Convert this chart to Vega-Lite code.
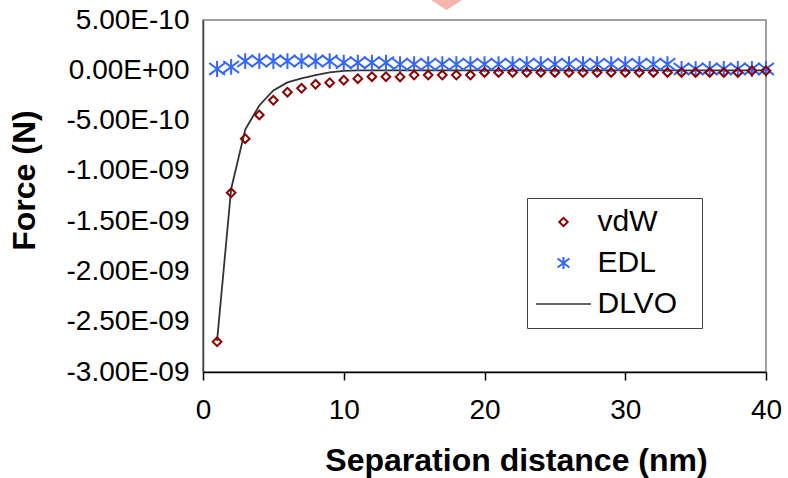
{
  "$schema": "https://vega.github.io/schema/vega-lite/v6.json",
  "width": 563,
  "height": 352,
  "autosize": {"type": "none"},
  "padding": {"left": 203, "top": 20, "right": 22, "bottom": 106},
  "background": "white",
  "config": {
    "font": "Liberation Sans",
    "view": {"stroke": "#808080", "strokeWidth": 1.5},
    "axis": {"grid": false, "labelColor": "#000", "titleColor": "#000", "labelFont": "Liberation Sans", "titleFont": "Liberation Sans"},
    "legend": {
      "orient": "none", "legendX": 324, "legendY": 178,
      "padding": 9, "rowPadding": 11, "strokeColor": "#404040", "fillColor": "white",
      "labelFontSize": 30, "labelFont": "Liberation Sans", "labelColor": "#000",
      "symbolSize": 64, "symbolStrokeWidth": 2, "symbolOffset": 12.5, "labelOffset": 19,
      "titleOrient": "right", "titleColor": "white", "titleFontSize": 6, "titlePadding": 14
    }
  },
  "datasets": {
    "forces": [
      {"x": 1, "series": "vdW", "force": -2.70e-9},
      {"x": 2, "series": "vdW", "force": -1.218e-9},
      {"x": 3, "series": "vdW", "force": -0.68e-9},
      {"x": 4, "series": "vdW", "force": -0.444e-9},
      {"x": 5, "series": "vdW", "force": -0.298e-9},
      {"x": 6, "series": "vdW", "force": -0.218e-9},
      {"x": 7, "series": "vdW", "force": -0.179e-9},
      {"x": 8, "series": "vdW", "force": -0.139e-9},
      {"x": 9, "series": "vdW", "force": -0.123e-9},
      {"x": 10, "series": "vdW", "force": -0.099e-9},
      {"x": 11, "series": "vdW", "force": -0.083e-9},
      {"x": 12, "series": "vdW", "force": -0.064e-9},
      {"x": 13, "series": "vdW", "force": -0.064e-9},
      {"x": 14, "series": "vdW", "force": -0.066e-9},
      {"x": 15, "series": "vdW", "force": -0.047e-9},
      {"x": 16, "series": "vdW", "force": -0.047e-9},
      {"x": 17, "series": "vdW", "force": -0.047e-9},
      {"x": 18, "series": "vdW", "force": -0.047e-9},
      {"x": 19, "series": "vdW", "force": -0.047e-9},
      {"x": 20, "series": "vdW", "force": -0.022e-9},
      {"x": 21, "series": "vdW", "force": -0.022e-9},
      {"x": 22, "series": "vdW", "force": -0.022e-9},
      {"x": 23, "series": "vdW", "force": -0.022e-9},
      {"x": 24, "series": "vdW", "force": -0.022e-9},
      {"x": 25, "series": "vdW", "force": -0.022e-9},
      {"x": 26, "series": "vdW", "force": -0.022e-9},
      {"x": 27, "series": "vdW", "force": -0.022e-9},
      {"x": 28, "series": "vdW", "force": -0.022e-9},
      {"x": 29, "series": "vdW", "force": -0.022e-9},
      {"x": 30, "series": "vdW", "force": -0.022e-9},
      {"x": 31, "series": "vdW", "force": -0.022e-9},
      {"x": 32, "series": "vdW", "force": -0.022e-9},
      {"x": 33, "series": "vdW", "force": -0.022e-9},
      {"x": 34, "series": "vdW", "force": -0.022e-9},
      {"x": 35, "series": "vdW", "force": -0.022e-9},
      {"x": 36, "series": "vdW", "force": -0.022e-9},
      {"x": 37, "series": "vdW", "force": -0.022e-9},
      {"x": 38, "series": "vdW", "force": -0.022e-9},
      {"x": 39, "series": "vdW", "force": -0.005e-9},
      {"x": 40, "series": "vdW", "force": -0.005e-9},
      {"x": 1, "series": "EDL", "force": 0.013e-9},
      {"x": 2, "series": "EDL", "force": 0.033e-9},
      {"x": 3, "series": "EDL", "force": 0.092e-9},
      {"x": 4, "series": "EDL", "force": 0.092e-9},
      {"x": 5, "series": "EDL", "force": 0.092e-9},
      {"x": 6, "series": "EDL", "force": 0.092e-9},
      {"x": 7, "series": "EDL", "force": 0.092e-9},
      {"x": 8, "series": "EDL", "force": 0.092e-9},
      {"x": 9, "series": "EDL", "force": 0.092e-9},
      {"x": 10, "series": "EDL", "force": 0.075e-9},
      {"x": 11, "series": "EDL", "force": 0.075e-9},
      {"x": 12, "series": "EDL", "force": 0.075e-9},
      {"x": 13, "series": "EDL", "force": 0.075e-9},
      {"x": 14, "series": "EDL", "force": 0.06e-9},
      {"x": 15, "series": "EDL", "force": 0.06e-9},
      {"x": 16, "series": "EDL", "force": 0.06e-9},
      {"x": 17, "series": "EDL", "force": 0.06e-9},
      {"x": 18, "series": "EDL", "force": 0.06e-9},
      {"x": 19, "series": "EDL", "force": 0.06e-9},
      {"x": 20, "series": "EDL", "force": 0.06e-9},
      {"x": 21, "series": "EDL", "force": 0.06e-9},
      {"x": 22, "series": "EDL", "force": 0.06e-9},
      {"x": 23, "series": "EDL", "force": 0.06e-9},
      {"x": 24, "series": "EDL", "force": 0.06e-9},
      {"x": 25, "series": "EDL", "force": 0.06e-9},
      {"x": 26, "series": "EDL", "force": 0.06e-9},
      {"x": 27, "series": "EDL", "force": 0.06e-9},
      {"x": 28, "series": "EDL", "force": 0.06e-9},
      {"x": 29, "series": "EDL", "force": 0.06e-9},
      {"x": 30, "series": "EDL", "force": 0.06e-9},
      {"x": 31, "series": "EDL", "force": 0.06e-9},
      {"x": 32, "series": "EDL", "force": 0.06e-9},
      {"x": 33, "series": "EDL", "force": 0.06e-9},
      {"x": 34, "series": "EDL", "force": 0.013e-9},
      {"x": 35, "series": "EDL", "force": 0.013e-9},
      {"x": 36, "series": "EDL", "force": 0.013e-9},
      {"x": 37, "series": "EDL", "force": 0.013e-9},
      {"x": 38, "series": "EDL", "force": 0.013e-9},
      {"x": 39, "series": "EDL", "force": 0.013e-9},
      {"x": 40, "series": "EDL", "force": 0.013e-9},
      {"x": 1, "series": "DLVO", "force": -2.69e-9},
      {"x": 2, "series": "DLVO", "force": -1.18e-9},
      {"x": 3, "series": "DLVO", "force": -0.59e-9},
      {"x": 4, "series": "DLVO", "force": -0.35e-9},
      {"x": 5, "series": "DLVO", "force": -0.20e-9},
      {"x": 6, "series": "DLVO", "force": -0.12e-9},
      {"x": 7, "series": "DLVO", "force": -0.08e-9},
      {"x": 8, "series": "DLVO", "force": -0.047e-9},
      {"x": 9, "series": "DLVO", "force": -0.02e-9},
      {"x": 10, "series": "DLVO", "force": -0.005e-9},
      {"x": 11, "series": "DLVO", "force": 0},
      {"x": 12, "series": "DLVO", "force": 0},
      {"x": 13, "series": "DLVO", "force": 0},
      {"x": 14, "series": "DLVO", "force": 0},
      {"x": 15, "series": "DLVO", "force": 0},
      {"x": 16, "series": "DLVO", "force": 0},
      {"x": 17, "series": "DLVO", "force": 0},
      {"x": 18, "series": "DLVO", "force": 0},
      {"x": 19, "series": "DLVO", "force": 0},
      {"x": 20, "series": "DLVO", "force": 0},
      {"x": 21, "series": "DLVO", "force": 0},
      {"x": 22, "series": "DLVO", "force": 0},
      {"x": 23, "series": "DLVO", "force": 0},
      {"x": 24, "series": "DLVO", "force": 0},
      {"x": 25, "series": "DLVO", "force": 0},
      {"x": 26, "series": "DLVO", "force": 0},
      {"x": 27, "series": "DLVO", "force": 0},
      {"x": 28, "series": "DLVO", "force": 0},
      {"x": 29, "series": "DLVO", "force": 0},
      {"x": 30, "series": "DLVO", "force": 0},
      {"x": 31, "series": "DLVO", "force": 0},
      {"x": 32, "series": "DLVO", "force": 0},
      {"x": 33, "series": "DLVO", "force": 0},
      {"x": 34, "series": "DLVO", "force": 0},
      {"x": 35, "series": "DLVO", "force": 0},
      {"x": 36, "series": "DLVO", "force": 0},
      {"x": 37, "series": "DLVO", "force": 0},
      {"x": 38, "series": "DLVO", "force": 0},
      {"x": 39, "series": "DLVO", "force": 0},
      {"x": 40, "series": "DLVO", "force": 0}
    ],
    "marker": [{"x": 17.3, "force": 6.8e-10}]
  },
  "data": {"name": "forces"},
  "encoding": {
    "x": {
      "field": "x", "type": "quantitative",
      "scale": {"domain": [0, 40], "nice": false, "zero": false},
      "axis": {
        "title": "Separation distance (nm)",
        "values": [0, 10, 20, 30, 40],
        "labelFontSize": 28, "labelPadding": 16, "labelFlush": false,
        "tickSize": 8, "tickColor": "#000", "tickWidth": 1.5,
        "domainColor": "#000", "domainWidth": 1.5,
        "titleFontSize": 32, "titleFontWeight": "bold", "titleX": 313, "titleY": 73, "titleAnchor": "middle"
      }
    },
    "y": {
      "field": "force", "type": "quantitative",
      "scale": {"domain": [-3e-9, 5e-10], "nice": false, "zero": false},
      "axis": {
        "title": "Force (N)",
        "values": [5e-10, 0, -5e-10, -1e-9, -1.5e-9, -2e-9, -2.5e-9, -3e-9],
        "labelExpr": "abs(datum.value) < 1e-15 ? '0.00E+00' : (datum.value < 0 ? '-' : '') + format(abs(datum.value) / pow(10, floor(log(abs(datum.value)) / LN10 + 1e-6)), '.2f') + 'E' + (floor(log(abs(datum.value)) / LN10 + 1e-6) < 0 ? '-' : '+') + (abs(floor(log(abs(datum.value)) / LN10 + 1e-6)) < 10 ? '0' : '') + abs(floor(log(abs(datum.value)) / LN10 + 1e-6))",
        "labelFontSize": 28, "labelPadding": 14, "ticks": false, "tickSize": 0,
        "domainColor": "#404040", "domainWidth": 1.5,
        "titleFontSize": 32, "titleFontWeight": "bold", "titleX": -162, "titleY": 160, "titleAnchor": "middle"
      }
    }
  },
  "layer": [
    {
      "data": {"values": [{}]},
      "mark": {"type": "rule", "color": "#404040", "strokeWidth": 1},
      "encoding": {"x": {"datum": 0}, "x2": {"datum": 40}, "y": {"datum": 0}}
    },
    {
      "transform": [{"filter": "datum.series == 'DLVO'"}],
      "mark": {"type": "line", "strokeWidth": 1.8},
      "encoding": {
        "color": {
          "field": "series", "type": "nominal",
          "scale": {"domain": ["vdW", "EDL", "DLVO"], "range": ["#8B0000", "#3366FF", "#333333"]},
          "legend": {
            "title": ".",
            "encode": {"symbols": {"update": {
              "size": {"signal": "datum.value === 'DLVO' ? 3025 : datum.value === 'EDL' ? 140 : 70"},
              "strokeWidth": {"signal": "datum.value === 'DLVO' ? 1.3 : 2"},
              "fill": {"value": "transparent"},
              "opacity": {"value": 1}
            }}}
          }
        }
      }
    },
    {
      "transform": [{"filter": "datum.series == 'EDL'"}],
      "mark": {"type": "point", "filled": false, "size": 250, "strokeWidth": 2, "opacity": 1},
      "encoding": {
        "color": {
          "field": "series", "type": "nominal",
          "scale": {"domain": ["vdW", "EDL", "DLVO"], "range": ["#8B0000", "#3366FF", "#333333"]},
          "legend": {
            "title": ".",
            "encode": {"symbols": {"update": {
              "size": {"signal": "datum.value === 'DLVO' ? 3025 : datum.value === 'EDL' ? 140 : 70"},
              "strokeWidth": {"signal": "datum.value === 'DLVO' ? 1.3 : 2"},
              "fill": {"value": "transparent"},
              "opacity": {"value": 1}
            }}}
          }
        },
        "shape": {
          "field": "series", "type": "nominal",
          "scale": {"domain": ["vdW", "EDL", "DLVO"], "range": ["diamond", "M0,-1L0,1M-1,-0.75L1,0.75M-1,0.75L1,-0.75", "stroke"]},
          "legend": {
            "title": ".",
            "encode": {"symbols": {"update": {
              "size": {"signal": "datum.value === 'DLVO' ? 3025 : datum.value === 'EDL' ? 140 : 70"},
              "strokeWidth": {"signal": "datum.value === 'DLVO' ? 1.3 : 2"},
              "fill": {"value": "transparent"},
              "opacity": {"value": 1}
            }}}
          }
        }
      }
    },
    {
      "transform": [{"filter": "datum.series == 'vdW'"}],
      "mark": {"type": "point", "filled": false, "size": 75, "strokeWidth": 2, "opacity": 1},
      "encoding": {
        "color": {
          "field": "series", "type": "nominal",
          "scale": {"domain": ["vdW", "EDL", "DLVO"], "range": ["#8B0000", "#3366FF", "#333333"]},
          "legend": {
            "title": ".",
            "encode": {"symbols": {"update": {
              "size": {"signal": "datum.value === 'DLVO' ? 3025 : datum.value === 'EDL' ? 140 : 70"},
              "strokeWidth": {"signal": "datum.value === 'DLVO' ? 1.3 : 2"},
              "fill": {"value": "transparent"},
              "opacity": {"value": 1}
            }}}
          }
        },
        "shape": {
          "field": "series", "type": "nominal",
          "scale": {"domain": ["vdW", "EDL", "DLVO"], "range": ["diamond", "M0,-1L0,1M-1,-0.75L1,0.75M-1,0.75L1,-0.75", "stroke"]},
          "legend": {
            "title": ".",
            "encode": {"symbols": {"update": {
              "size": {"signal": "datum.value === 'DLVO' ? 3025 : datum.value === 'EDL' ? 140 : 70"},
              "strokeWidth": {"signal": "datum.value === 'DLVO' ? 1.3 : 2"},
              "fill": {"value": "transparent"},
              "opacity": {"value": 1}
            }}}
          }
        }
      }
    },
    {
      "data": {"name": "marker"},
      "mark": {"type": "point", "filled": true, "shape": "M-1,-0.32L1,-0.32L0,0.32Z", "size": 2500, "color": "#F5B5AC", "opacity": 1, "strokeWidth": 0}
    }
  ]
}
